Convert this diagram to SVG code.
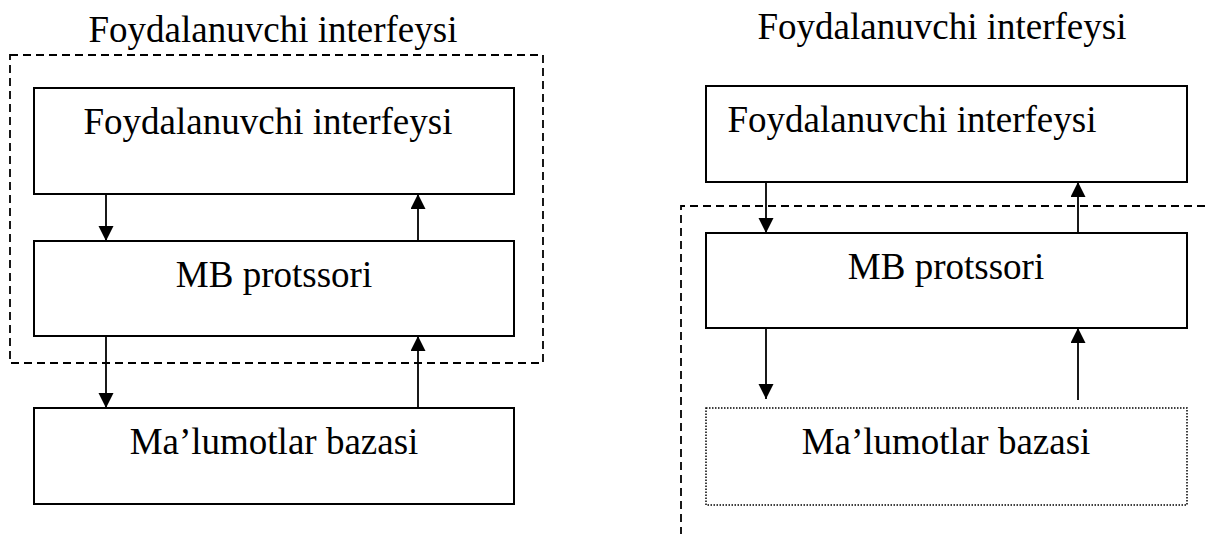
<svg xmlns="http://www.w3.org/2000/svg" width="1205" height="534" viewBox="0 0 1205 534">
<style>
.box{fill:#fff;stroke:#000;stroke-width:2}
.dot{fill:#fff;stroke:#000;stroke-width:1.5;stroke-dasharray:1.5 1.5}
.dash{fill:none;stroke:#000;stroke-width:1.8;stroke-dasharray:8 5}
.t{font-family:'Liberation Serif','Times New Roman','DejaVu Serif',serif;font-size:37px;fill:#000;text-anchor:middle}
.c{stroke:#000;stroke-width:1.8;fill:none;marker-end:url(#ah)}
</style>
<defs>
<marker id="ah" markerUnits="userSpaceOnUse" markerWidth="16" markerHeight="16" refX="15" refY="7.5" orient="auto">
<path d="M0,0 L15,7.5 L0,15 Z" fill="#000"/>
</marker>
</defs>
<rect width="1205" height="534" fill="#fff"/>
<g id="left-group">
<rect class="dash" x="10" y="55" width="533" height="308"/>
<text class="t" x="273" y="42" font-family="Liberation Serif, serif">Foydalanuvchi interfeysi</text>
</g>
<g id="right-group">
<path class="dash" d="M1205,206 H681 V534"/>
<text class="t" x="942" y="39" font-family="Liberation Serif, serif">Foydalanuvchi interfeysi</text>
</g>
<g id="left-ui">
<rect class="box" x="34" y="88" width="480" height="106"/>
<text class="t" x="268" y="134" font-family="Liberation Serif, serif">Foydalanuvchi interfeysi</text>
</g>
<g id="left-mb">
<rect class="box" x="34" y="241" width="480" height="95"/>
<text class="t" x="274" y="287" font-family="Liberation Serif, serif">MB protssori</text>
</g>
<g id="left-db">
<rect class="box" x="34" y="408" width="480" height="96"/>
<text class="t" x="274" y="454" font-family="Liberation Serif, serif">Ma’lumotlar bazasi</text>
</g>
<g id="right-ui">
<rect class="box" x="706" y="86" width="481" height="96"/>
<text class="t" x="912" y="132" font-family="Liberation Serif, serif">Foydalanuvchi interfeysi</text>
</g>
<g id="right-mb">
<rect class="box" x="706" y="233" width="481" height="95"/>
<text class="t" x="946" y="279" font-family="Liberation Serif, serif">MB protssori</text>
</g>
<g id="right-db">
<rect class="dot" x="706" y="408" width="481" height="97"/>
<text class="t" x="946" y="454" font-family="Liberation Serif, serif">Ma’lumotlar bazasi</text>
</g>
<g id="connectors">
<line class="c" x1="106" y1="194" x2="106" y2="241"/>
<line class="c" x1="418" y1="241" x2="418" y2="194"/>
<line class="c" x1="106" y1="336" x2="106" y2="408"/>
<line class="c" x1="418" y1="408" x2="418" y2="336"/>
<line class="c" x1="766" y1="182" x2="766" y2="233"/>
<line class="c" x1="1078" y1="233" x2="1078" y2="182"/>
<line class="c" x1="766" y1="328" x2="766" y2="399"/>
<line class="c" x1="1078" y1="400" x2="1078" y2="328"/>
</g>
</svg>
